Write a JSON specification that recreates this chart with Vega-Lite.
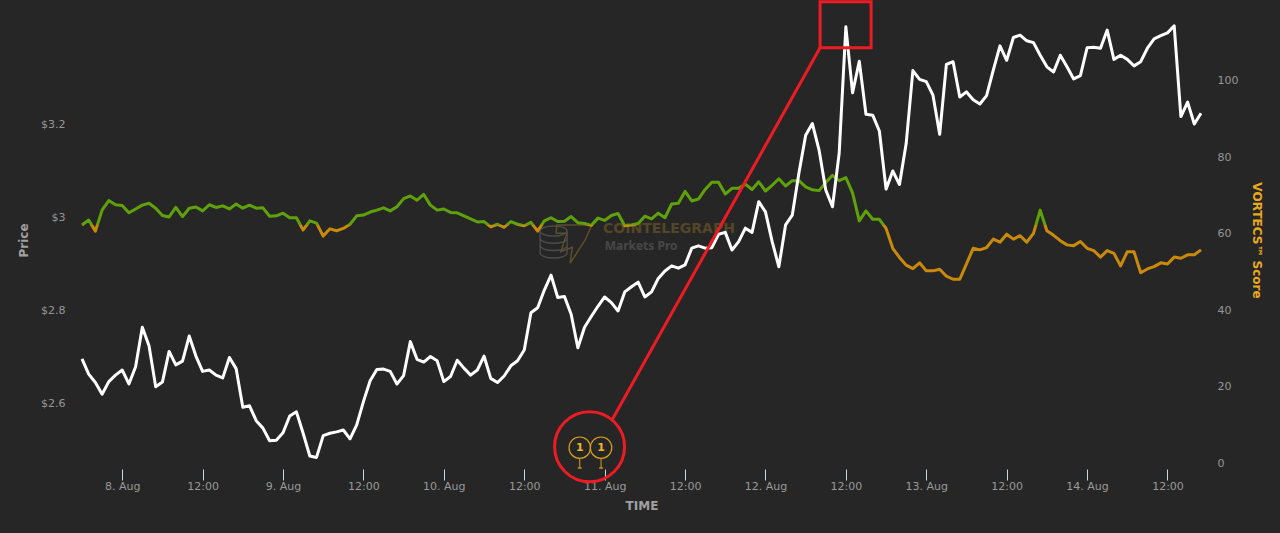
{
  "$schema": "https://vega.github.io/schema/vega-lite/v6.json",
  "description": "VORTECS score and price with a marked tweet event",
  "background": "#262626",
  "autosize": {"type": "none"},
  "padding": {"left": 82, "top": 0, "right": 79, "bottom": 64},
  "width": 1119,
  "height": 469,
  "config": {"view": {"stroke": null}, "axis": {"grid": false, "domain": false, "labelFont": "DejaVu Sans", "titleFont": "DejaVu Sans"}},
  "datasets": {
    "series": [
      {"t":"2021-08-07T18:00:00Z","price":2.695,"score":62.3},{"t":"2021-08-07T19:00:00Z","price":2.662,"score":63.6},{"t":"2021-08-07T20:00:00Z","price":2.644,"score":60.7},{"t":"2021-08-07T21:00:00Z","price":2.619,"score":66.2},{"t":"2021-08-07T22:00:00Z","price":2.646,"score":68.7},{"t":"2021-08-07T23:00:00Z","price":2.660,"score":67.6},
      {"t":"2021-08-08T00:00:00Z","price":2.671,"score":67.4},{"t":"2021-08-08T01:00:00Z","price":2.641,"score":65.5},{"t":"2021-08-08T02:00:00Z","price":2.678,"score":66.5},{"t":"2021-08-08T03:00:00Z","price":2.763,"score":67.5},{"t":"2021-08-08T04:00:00Z","price":2.723,"score":68.0},{"t":"2021-08-08T05:00:00Z","price":2.635,"score":66.7},
      {"t":"2021-08-08T06:00:00Z","price":2.645,"score":64.8},{"t":"2021-08-08T07:00:00Z","price":2.711,"score":64.4},{"t":"2021-08-08T08:00:00Z","price":2.682,"score":66.9},{"t":"2021-08-08T09:00:00Z","price":2.690,"score":64.5},{"t":"2021-08-08T10:00:00Z","price":2.744,"score":66.7},{"t":"2021-08-08T11:00:00Z","price":2.701,"score":67.0},
      {"t":"2021-08-08T12:00:00Z","price":2.668,"score":66.0},{"t":"2021-08-08T13:00:00Z","price":2.671,"score":67.6},{"t":"2021-08-08T14:00:00Z","price":2.660,"score":66.9},{"t":"2021-08-08T15:00:00Z","price":2.654,"score":67.3},{"t":"2021-08-08T16:00:00Z","price":2.698,"score":66.5},{"t":"2021-08-08T17:00:00Z","price":2.674,"score":67.8},
      {"t":"2021-08-08T18:00:00Z","price":2.591,"score":66.7},{"t":"2021-08-08T19:00:00Z","price":2.594,"score":67.5},{"t":"2021-08-08T20:00:00Z","price":2.562,"score":66.7},{"t":"2021-08-08T21:00:00Z","price":2.546,"score":66.8},{"t":"2021-08-08T22:00:00Z","price":2.519,"score":64.6},{"t":"2021-08-08T23:00:00Z","price":2.520,"score":64.7},
      {"t":"2021-08-09T00:00:00Z","price":2.536,"score":65.4},{"t":"2021-08-09T01:00:00Z","price":2.572,"score":64.2},{"t":"2021-08-09T02:00:00Z","price":2.581,"score":64.2},{"t":"2021-08-09T03:00:00Z","price":2.535,"score":61.0},{"t":"2021-08-09T04:00:00Z","price":2.486,"score":63.4},{"t":"2021-08-09T05:00:00Z","price":2.483,"score":62.8},
      {"t":"2021-08-09T06:00:00Z","price":2.530,"score":59.4},{"t":"2021-08-09T07:00:00Z","price":2.535,"score":61.3},{"t":"2021-08-09T08:00:00Z","price":2.538,"score":60.8},{"t":"2021-08-09T09:00:00Z","price":2.542,"score":61.4},{"t":"2021-08-09T10:00:00Z","price":2.523,"score":62.5},{"t":"2021-08-09T11:00:00Z","price":2.553,"score":64.7},
      {"t":"2021-08-09T12:00:00Z","price":2.603,"score":64.9},{"t":"2021-08-09T13:00:00Z","price":2.648,"score":65.7},{"t":"2021-08-09T14:00:00Z","price":2.672,"score":66.2},{"t":"2021-08-09T15:00:00Z","price":2.673,"score":66.8},{"t":"2021-08-09T16:00:00Z","price":2.668,"score":66.0},{"t":"2021-08-09T17:00:00Z","price":2.641,"score":67.1},
      {"t":"2021-08-09T18:00:00Z","price":2.659,"score":69.2},{"t":"2021-08-09T19:00:00Z","price":2.732,"score":69.9},{"t":"2021-08-09T20:00:00Z","price":2.694,"score":68.8},{"t":"2021-08-09T21:00:00Z","price":2.688,"score":70.3},{"t":"2021-08-09T22:00:00Z","price":2.700,"score":67.5},{"t":"2021-08-09T23:00:00Z","price":2.691,"score":66.2},
      {"t":"2021-08-10T00:00:00Z","price":2.646,"score":66.5},{"t":"2021-08-10T01:00:00Z","price":2.657,"score":65.6},{"t":"2021-08-10T02:00:00Z","price":2.692,"score":65.5},{"t":"2021-08-10T03:00:00Z","price":2.675,"score":64.7},{"t":"2021-08-10T04:00:00Z","price":2.660,"score":63.9},{"t":"2021-08-10T05:00:00Z","price":2.671,"score":63.1},
      {"t":"2021-08-10T06:00:00Z","price":2.701,"score":63.2},{"t":"2021-08-10T07:00:00Z","price":2.653,"score":61.8},{"t":"2021-08-10T08:00:00Z","price":2.644,"score":62.5},{"t":"2021-08-10T09:00:00Z","price":2.658,"score":61.7},{"t":"2021-08-10T10:00:00Z","price":2.680,"score":63.2},{"t":"2021-08-10T11:00:00Z","price":2.691,"score":62.5},
      {"t":"2021-08-10T12:00:00Z","price":2.714,"score":62.1},{"t":"2021-08-10T13:00:00Z","price":2.794,"score":63.0},{"t":"2021-08-10T14:00:00Z","price":2.805,"score":60.7},{"t":"2021-08-10T15:00:00Z","price":2.843,"score":63.4},{"t":"2021-08-10T16:00:00Z","price":2.875,"score":64.2},{"t":"2021-08-10T17:00:00Z","price":2.827,"score":63.2},
      {"t":"2021-08-10T18:00:00Z","price":2.829,"score":63.3},{"t":"2021-08-10T19:00:00Z","price":2.791,"score":64.5},{"t":"2021-08-10T20:00:00Z","price":2.719,"score":62.9},{"t":"2021-08-10T21:00:00Z","price":2.763,"score":62.7},{"t":"2021-08-10T22:00:00Z","price":2.786,"score":62.2},{"t":"2021-08-10T23:00:00Z","price":2.808,"score":64.1},
      {"t":"2021-08-11T00:00:00Z","price":2.828,"score":63.5},{"t":"2021-08-11T01:00:00Z","price":2.816,"score":64.8},{"t":"2021-08-11T02:00:00Z","price":2.798,"score":65.3},{"t":"2021-08-11T03:00:00Z","price":2.839,"score":62.1},{"t":"2021-08-11T04:00:00Z","price":2.850,"score":62.3},{"t":"2021-08-11T05:00:00Z","price":2.860,"score":62.7},
      {"t":"2021-08-11T06:00:00Z","price":2.828,"score":64.6},{"t":"2021-08-11T07:00:00Z","price":2.839,"score":63.9},{"t":"2021-08-11T08:00:00Z","price":2.868,"score":65.4},{"t":"2021-08-11T09:00:00Z","price":2.884,"score":64.2},{"t":"2021-08-11T10:00:00Z","price":2.895,"score":67.8},{"t":"2021-08-11T11:00:00Z","price":2.890,"score":68.0},
      {"t":"2021-08-11T12:00:00Z","price":2.897,"score":71.1},{"t":"2021-08-11T13:00:00Z","price":2.933,"score":68.6},{"t":"2021-08-11T14:00:00Z","price":2.938,"score":69.1},{"t":"2021-08-11T15:00:00Z","price":2.933,"score":71.6},{"t":"2021-08-11T16:00:00Z","price":2.934,"score":73.5},{"t":"2021-08-11T17:00:00Z","price":2.963,"score":73.5},
      {"t":"2021-08-11T18:00:00Z","price":2.967,"score":70.4},{"t":"2021-08-11T19:00:00Z","price":2.929,"score":71.9},{"t":"2021-08-11T20:00:00Z","price":2.947,"score":71.9},{"t":"2021-08-11T21:00:00Z","price":2.976,"score":73.0},{"t":"2021-08-11T22:00:00Z","price":2.967,"score":71.6},{"t":"2021-08-11T23:00:00Z","price":3.033,"score":73.6},
      {"t":"2021-08-12T00:00:00Z","price":3.011,"score":71.2},{"t":"2021-08-12T01:00:00Z","price":2.947,"score":72.7},{"t":"2021-08-12T02:00:00Z","price":2.893,"score":74.4},{"t":"2021-08-12T03:00:00Z","price":2.983,"score":72.5},{"t":"2021-08-12T04:00:00Z","price":3.004,"score":73.9},{"t":"2021-08-12T05:00:00Z","price":3.095,"score":73.9},
      {"t":"2021-08-12T06:00:00Z","price":3.176,"score":72.3},{"t":"2021-08-12T07:00:00Z","price":3.201,"score":71.5},{"t":"2021-08-12T08:00:00Z","price":3.144,"score":71.3},{"t":"2021-08-12T09:00:00Z","price":3.058,"score":73.4},{"t":"2021-08-12T10:00:00Z","price":3.022,"score":75.3},{"t":"2021-08-12T11:00:00Z","price":3.137,"score":73.9},
      {"t":"2021-08-12T12:00:00Z","price":3.409,"score":74.7},{"t":"2021-08-12T13:00:00Z","price":3.267,"score":70.7},{"t":"2021-08-12T14:00:00Z","price":3.335,"score":63.4},{"t":"2021-08-12T15:00:00Z","price":3.221,"score":66.0},{"t":"2021-08-12T16:00:00Z","price":3.219,"score":63.8},{"t":"2021-08-12T17:00:00Z","price":3.185,"score":63.8},
      {"t":"2021-08-12T18:00:00Z","price":3.060,"score":61.4},{"t":"2021-08-12T19:00:00Z","price":3.099,"score":56.2},{"t":"2021-08-12T20:00:00Z","price":3.070,"score":53.8},{"t":"2021-08-12T21:00:00Z","price":3.158,"score":51.8},{"t":"2021-08-12T22:00:00Z","price":3.315,"score":50.9},{"t":"2021-08-12T23:00:00Z","price":3.296,"score":52.4},
      {"t":"2021-08-13T00:00:00Z","price":3.291,"score":50.3},{"t":"2021-08-13T01:00:00Z","price":3.262,"score":50.3},{"t":"2021-08-13T02:00:00Z","price":3.178,"score":50.7},{"t":"2021-08-13T03:00:00Z","price":3.328,"score":48.9},{"t":"2021-08-13T04:00:00Z","price":3.334,"score":48.1},{"t":"2021-08-13T05:00:00Z","price":3.258,"score":48.1},
      {"t":"2021-08-13T06:00:00Z","price":3.269,"score":52.1},{"t":"2021-08-13T07:00:00Z","price":3.252,"score":56.2},{"t":"2021-08-13T08:00:00Z","price":3.243,"score":55.8},{"t":"2021-08-13T09:00:00Z","price":3.261,"score":56.4},{"t":"2021-08-13T10:00:00Z","price":3.316,"score":58.6},{"t":"2021-08-13T11:00:00Z","price":3.368,"score":57.8},
      {"t":"2021-08-13T12:00:00Z","price":3.337,"score":59.9},{"t":"2021-08-13T13:00:00Z","price":3.386,"score":58.6},{"t":"2021-08-13T14:00:00Z","price":3.391,"score":59.5},{"t":"2021-08-13T15:00:00Z","price":3.379,"score":57.8},{"t":"2021-08-13T16:00:00Z","price":3.375,"score":60.1},{"t":"2021-08-13T17:00:00Z","price":3.348,"score":66.2},
      {"t":"2021-08-13T18:00:00Z","price":3.323,"score":60.8},{"t":"2021-08-13T19:00:00Z","price":3.312,"score":59.6},{"t":"2021-08-13T20:00:00Z","price":3.348,"score":58.2},{"t":"2021-08-13T21:00:00Z","price":3.323,"score":57.1},{"t":"2021-08-13T22:00:00Z","price":3.297,"score":56.9},{"t":"2021-08-13T23:00:00Z","price":3.304,"score":58.0},
      {"t":"2021-08-14T00:00:00Z","price":3.364,"score":56.2},{"t":"2021-08-14T01:00:00Z","price":3.365,"score":55.6},{"t":"2021-08-14T02:00:00Z","price":3.363,"score":53.9},{"t":"2021-08-14T03:00:00Z","price":3.402,"score":55.6},{"t":"2021-08-14T04:00:00Z","price":3.339,"score":54.9},{"t":"2021-08-14T05:00:00Z","price":3.348,"score":51.6},
      {"t":"2021-08-14T06:00:00Z","price":3.339,"score":55.3},{"t":"2021-08-14T07:00:00Z","price":3.325,"score":55.3},{"t":"2021-08-14T08:00:00Z","price":3.334,"score":49.8},{"t":"2021-08-14T09:00:00Z","price":3.363,"score":50.8},{"t":"2021-08-14T10:00:00Z","price":3.383,"score":51.4},{"t":"2021-08-14T11:00:00Z","price":3.390,"score":52.4},
      {"t":"2021-08-14T12:00:00Z","price":3.396,"score":52.1},{"t":"2021-08-14T13:00:00Z","price":3.411,"score":53.9},{"t":"2021-08-14T14:00:00Z","price":3.216,"score":53.6},{"t":"2021-08-14T15:00:00Z","price":3.247,"score":54.5},{"t":"2021-08-14T16:00:00Z","price":3.200,"score":54.5},{"t":"2021-08-14T17:00:00Z","price":3.223,"score":55.8}
    ],
    "callout": [
      {"t":"2021-08-11T01:06:00Z","price":2.5635},
      {"t":"2021-08-12T08:09:00Z","price":3.364}
    ],
    "events": [
      {"t":"2021-08-10T20:17:00Z","top":2.4796,"bottom":2.4602,"centre":2.5039,"count":"1"},
      {"t":"2021-08-10T23:28:00Z","top":2.4796,"bottom":2.4602,"centre":2.5039,"count":"1"}
    ]
  },
  "layer": [
    {
      "data": {"values": [{"t":"2021-08-10T23:46:00Z","score":61.25,"label":"COINTELEGRAPH"}]},
      "mark": {"type": "text", "align": "left", "baseline": "middle", "font": "DejaVu Sans", "fontWeight": "bold", "fontSize": 14, "color": "#544727"},
      "encoding": {
        "x": {"field": "t", "type": "temporal"},
        "y": {"field": "score", "type": "quantitative", "scale": {"domain": [-1.57, 121.2], "nice": false, "zero": false}, "axis": null},
        "text": {"field": "label"}
      }
    },
    {
      "data": {"values": [{"t":"2021-08-11T00:00:00Z","score":56.9,"label":"Markets Pro"}]},
      "mark": {"type": "text", "align": "left", "baseline": "middle", "font": "Noto Sans", "fontWeight": "bold", "fontSize": 12, "color": "#484848"},
      "encoding": {
        "x": {"field": "t", "type": "temporal"},
        "y": {"field": "score", "type": "quantitative", "scale": {"domain": [-1.57, 121.2], "nice": false, "zero": false}, "axis": null},
        "text": {"field": "label"}
      }
    },
    {
      "data": {"values": [{"t": "2021-08-10T18:06:00Z", "score": 57.72}]},
      "mark": {"type": "point", "filled": false, "size": 2500, "strokeWidth": 1.3, "color": "#4c4c4c", "opacity": 1,
        "shape": "M-1 -.46 A.54 .2 0 1 1 .08 -.46 A.54 .2 0 1 1 -1 -.46 M-1 -.46 V.42 A.54 .2 0 0 0 .08 .42 V-.46 M-1 -.17 A.54 .2 0 0 0 .08 -.17 M-1 .12 A.54 .2 0 0 0 .08 .12"},
      "encoding": {
        "x": {"field": "t", "type": "temporal"},
        "y": {"field": "score", "type": "quantitative", "scale": {"domain": [-1.57, 121.2], "nice": false, "zero": false}, "axis": null}
      }
    },
    {
      "data": {"values": [{"t": "2021-08-10T18:06:00Z", "score": 57.72}]},
      "mark": {"type": "point", "filled": false, "size": 2500, "strokeWidth": 1.5, "color": "#5c4e2a", "opacity": 1,
        "shape": "M-.33 -.7 L1.07 -.7 L.8 -.1 L.2 .83 L.29 .19 L-.17 .37 L.07 -.37 L-.36 -.37 Z"},
      "encoding": {
        "x": {"field": "t", "type": "temporal"},
        "y": {"field": "score", "type": "quantitative", "scale": {"domain": [-1.57, 121.2], "nice": false, "zero": false}, "axis": null}
      }
    },
    {
      "data": {"name": "series"},
      "mark": {
        "type": "line",
        "strokeWidth": 3,
        "strokeJoin": "round",
        "stroke": {
          "gradient": "linear", "x1": 0, "y1": 0, "x2": 0, "y2": 1,
          "stops": [
            {"offset": 0, "color": "#5fa10a"},
            {"offset": 0.477, "color": "#5fa10a"},
            {"offset": 0.477, "color": "#c98a0a"},
            {"offset": 1, "color": "#c98a0a"}
          ]
        }
      },
      "encoding": {
        "x": {
          "field": "t",
          "type": "temporal",
          "scale": {"type": "utc", "domain": ["2021-08-07T18:00:00Z", "2021-08-14T17:00:00Z"]},
          "axis": {
            "title": "TIME",
            "titleColor": "#a0a0a0",
            "titleFontSize": 12,
            "titleFontWeight": "bold",
            "titlePadding": 9,
            "labelColor": "#999999",
            "labelFontSize": 11,
            "labelPadding": 0,
            "labelOverlap": false,
            "labelFlush": false,
            "tickColor": "#ccd6eb",
            "tickSize": 11,
            "tickWidth": 1,
            "values": ["2021-08-08T00:00:00Z","2021-08-08T12:00:00Z","2021-08-09T00:00:00Z","2021-08-09T12:00:00Z","2021-08-10T00:00:00Z","2021-08-10T12:00:00Z","2021-08-11T00:00:00Z","2021-08-11T12:00:00Z","2021-08-12T00:00:00Z","2021-08-12T12:00:00Z","2021-08-13T00:00:00Z","2021-08-13T12:00:00Z","2021-08-14T00:00:00Z","2021-08-14T12:00:00Z"],
            "labelExpr": "utchours(datum.value) == 0 ? utcFormat(datum.value, '%-d. %b') : '12:00'"
          }
        },
        "y": {
          "field": "score",
          "type": "quantitative",
          "scale": {"domain": [-1.57, 121.2], "nice": false, "zero": false},
          "axis": {
            "orient": "right",
            "values": [0, 20, 40, 60, 80, 100],
            "ticks": false,
            "labelColor": "#969696",
            "labelFontSize": 11,
            "labelPadding": 16,
            "title": "VORTECS™ Score",
            "titleColor": "#e8a91e",
            "titleFontSize": 12,
            "titleFontWeight": "bold",
            "titleAngle": 90,
            "titleX": 55,
            "titleY": 240,
            "titleAlign": "center",
            "titleBaseline": "middle"
          }
        }
      }
    },
    {
      "data": {"name": "series"},
      "mark": {"type": "line", "color": "#ffffff", "strokeWidth": 3, "strokeJoin": "round"},
      "encoding": {
        "x": {"field": "t", "type": "temporal"},
        "y": {
          "field": "price",
          "type": "quantitative",
          "scale": {"domain": [2.4581, 3.4667], "nice": false, "zero": false},
          "axis": {
            "orient": "left",
            "values": [2.6, 2.8, 3, 3.2],
            "ticks": false,
            "labelColor": "#969696",
            "labelFontSize": 11,
            "labelPadding": 17,
            "labelExpr": "'$' + datum.value",
            "title": "Price",
            "titleColor": "#a0a0a0",
            "titleFontSize": 12,
            "titleFontWeight": "bold",
            "titleX": -59,
            "titleY": 240,
            "titleAlign": "center",
            "titleBaseline": "middle"
          }
        }
      }
    },
    {
      "data": {"name": "callout"},
      "mark": {"type": "line", "color": "#ed1c24", "strokeWidth": 3},
      "encoding": {
        "x": {"field": "t", "type": "temporal"},
        "y": {"field": "price", "type": "quantitative", "scale": {"domain": [2.4581, 3.4667], "nice": false, "zero": false}, "axis": null}
      }
    },
    {
      "data": {"values": [{"t": "2021-08-12T08:09:00Z", "t2": "2021-08-12T15:46:00Z", "price": 3.4631, "price2": 3.3641}]},
      "mark": {"type": "rect", "filled": false, "stroke": "#ed1c24", "strokeWidth": 3},
      "encoding": {
        "x": {"field": "t", "type": "temporal"},
        "x2": {"field": "t2"},
        "y": {"field": "price", "type": "quantitative", "scale": {"domain": [2.4581, 3.4667], "nice": false, "zero": false}, "axis": null},
        "y2": {"field": "price2"}
      }
    },
    {
      "data": {"values": [{"t": "2021-08-10T21:45:00Z", "price": 2.506}]},
      "mark": {"type": "point", "shape": "circle", "filled": false, "size": 4900, "color": "#ed1c24", "strokeWidth": 3, "opacity": 1},
      "encoding": {
        "x": {"field": "t", "type": "temporal"},
        "y": {"field": "price", "type": "quantitative", "scale": {"domain": [2.4581, 3.4667], "nice": false, "zero": false}, "axis": null}
      }
    },
    {
      "data": {"name": "events"},
      "mark": {"type": "rule", "color": "#d9a21b", "strokeWidth": 1},
      "encoding": {
        "x": {"field": "t", "type": "temporal"},
        "y": {"field": "top", "type": "quantitative", "scale": {"domain": [2.4581, 3.4667], "nice": false, "zero": false}, "axis": null},
        "y2": {"field": "bottom"}
      }
    },
    {
      "data": {"name": "events"},
      "mark": {"type": "tick", "orient": "horizontal", "color": "#d9a21b", "size": 4, "thickness": 1.2, "opacity": 1},
      "encoding": {
        "x": {"field": "t", "type": "temporal"},
        "y": {"field": "bottom", "type": "quantitative", "scale": {"domain": [2.4581, 3.4667], "nice": false, "zero": false}, "axis": null}
      }
    },
    {
      "data": {"name": "events"},
      "mark": {"type": "point", "shape": "circle", "filled": false, "size": 460, "color": "#d9a21b", "strokeWidth": 1.2, "opacity": 1},
      "encoding": {
        "x": {"field": "t", "type": "temporal"},
        "y": {"field": "centre", "type": "quantitative", "scale": {"domain": [2.4581, 3.4667], "nice": false, "zero": false}, "axis": null}
      }
    },
    {
      "data": {"name": "events"},
      "mark": {"type": "text", "font": "DejaVu Sans", "fontWeight": "bold", "fontSize": 11, "color": "#f0b429", "baseline": "middle"},
      "encoding": {
        "x": {"field": "t", "type": "temporal"},
        "y": {"field": "centre", "type": "quantitative", "scale": {"domain": [2.4581, 3.4667], "nice": false, "zero": false}, "axis": null},
        "text": {"field": "count"}
      }
    }
  ],
  "resolve": {"scale": {"y": "independent"}}
}
